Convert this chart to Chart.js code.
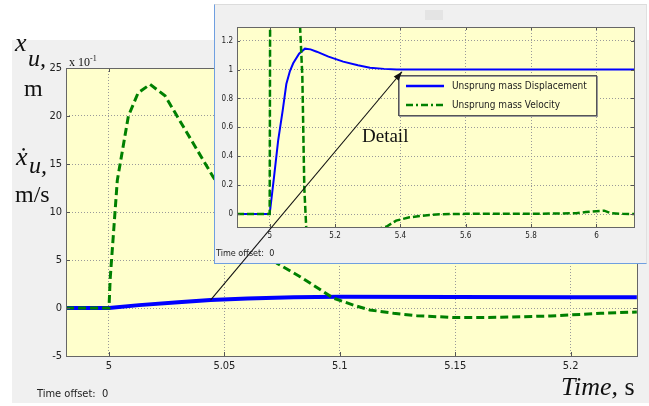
<!DOCTYPE html>
<html>
<head>
<meta charset="utf-8">
<script src="https://cdn.jsdelivr.net/npm/chart.js@4/dist/chart.umd.min.js"></script>
<style>
  html, body { margin:0; padding:0; background:#ffffff; }
  #stage { position:relative; width:649px; height:406px; overflow:hidden; background:#ffffff; }
  .abs { position:absolute; white-space:nowrap; }
  #mainPanel { left:12px; top:40px; width:637px; height:363px; background:#f0f0f0; }
  #insetPanel { left:214px; top:4px; width:431px; height:258px; background:#f0f0f0;
    border-left:1px solid #6f9fe0; border-bottom:1px solid #6f9fe0; border-top:1px solid #dcdcdc; border-right:1px solid #e0e0e0; }
  .serif { font-family:'Liberation Serif','Times New Roman',serif; color:#111; line-height:1; }
  .narrow { font-family:'Liberation Sans Narrow','Arial Narrow','DejaVu Sans Condensed',sans-serif; color:#222; line-height:1; }
  canvas { position:absolute; }
</style>
</head>
<body>
<div id="stage">
  <div id="mainPanel" class="abs"></div>
  <canvas id="mainChart" width="649" height="406" style="left:0;top:0;"></canvas>

  <div class="abs serif" style="left:15px;top:30px;font-size:26px;font-style:italic;">x</div>
  <div class="abs serif" style="left:28px;top:46px;font-size:24px;font-style:italic;">u,</div>
  <div class="abs serif" style="left:24px;top:76px;font-size:24px;">m</div>
  <div class="abs serif" style="left:16px;top:144px;font-size:26px;font-style:italic;">ẋ</div>
  <div class="abs serif" style="left:29px;top:153px;font-size:24px;font-style:italic;">u,</div>
  <div class="abs serif" style="left:15px;top:182px;font-size:24px;">m/s</div>
  <div class="abs serif" style="left:69px;top:55px;font-size:12px;">x 10<span style="font-size:8px;vertical-align:5px;">-1</span></div>
  <div class="abs serif" style="left:561px;top:374px;font-size:26px;"><i>Time,</i> s</div>
  <div class="abs narrow" style="left:37px;top:388px;font-size:11px;">Time offset:&nbsp;&nbsp;0</div>

  <div id="insetPanel" class="abs"></div>
  <div class="abs" style="left:425px;top:10px;width:18px;height:10px;background:#e4e4e4;"></div>
  <canvas id="insetChart" width="431" height="257" style="left:215px;top:5px;"></canvas>
  <div class="abs narrow" style="left:216px;top:249px;font-size:9px;">Time offset:&nbsp;&nbsp;0</div>
  <div class="abs serif" style="left:362px;top:126px;font-size:19px;">Detail</div>

  <canvas id="overlay" width="649" height="406" style="left:0;top:0;pointer-events:none;"></canvas>
</div>
<script>
// ---------------- data ----------------
// main plot (velocity and displacement in units of 10^-1)
const mainVelTime = [4.9814, 5.0, 5.0005, 5.0036, 5.0084, 5.0126, 5.0178, 5.0243, 5.045, 5.06, 5.0728, 5.0828, 5.0971, 5.1059, 5.113, 5.1233, 5.1334, 5.15, 5.1697, 5.1914, 5.2131, 5.2287];
const mainVelocity = [0, 0, 3, 13.3, 20, 22.4, 23.3, 22.1, 13.7, 8.6, 4.65, 3.26, 1.04, 0.3, -0.2, -0.55, -0.8, -1.0, -0.97, -0.83, -0.55, -0.42];
const mainDispTime = [4.9814, 5.0, 5.013, 5.03, 5.044, 5.06, 5.08, 5.1, 5.15, 5.2, 5.2287];
const mainDisplacement = [0, 0, 0.3, 0.6, 0.83, 1.0, 1.12, 1.16, 1.15, 1.13, 1.12];
const mainXTicks = [5, 5.05, 5.1, 5.15, 5.2];
const mainXTickLabels = ['5', '5.05', '5.1', '5.15', '5.2'];
const mainYTicks = [-5, 0, 5, 10, 15, 20, 25];
const mainYTickLabels = ['-5', '0', '5', '10', '15', '20', '25'];

// inset ("Detail") plot
const insetDispTime = [4.9, 5.0, 5.013, 5.026, 5.04, 5.051, 5.062, 5.072, 5.09, 5.108, 5.125, 5.144, 5.18, 5.225, 5.27, 5.307, 5.35, 5.389, 5.45, 5.6, 5.8, 6.0, 6.115];
const insetDisplacement = [0, 0, 0.25, 0.51, 0.72, 0.9, 0.99, 1.044, 1.11, 1.145, 1.14, 1.124, 1.09, 1.055, 1.03, 1.013, 1.005, 1.0, 1.0, 1.0, 1.0, 1.0, 1.0];
const insetVelTime = [4.9, 5.0, 5.002, 5.018, 5.06, 5.09, 5.1, 5.106, 5.112, 5.15, 5.25, 5.357, 5.387, 5.428, 5.459, 5.489, 5.52, 5.6, 5.8, 5.938, 5.968, 6.024, 6.045, 6.08, 6.115];
const insetVelocity = [0, 0, 2.0, 2.33, 1.8, 1.45, 0.95, 0.18, -0.1, -0.2, -0.15, -0.088, -0.046, -0.023, -0.014, -0.007, -0.002, 0.001, 0.001, 0.005, 0.014, 0.023, 0.005, 0.001, 0.0];
const insetXTicks = [5, 5.2, 5.4, 5.6, 5.8, 6];
const insetXTickLabels = ['5', '5.2', '5.4', '5.6', '5.8', '6'];
const insetYTicks = [0, 0.2, 0.4, 0.6, 0.8, 1, 1.2];
const insetYTickLabels = ['0', '0.2', '0.4', '0.6', '0.8', '1', '1.2'];
const seriesLabels = ['Unsprung mass Displacement', 'Unsprung mass Velocity'];

// arrow anchors: [time, value] on main plot -> [time, value] on inset plot
const arrowFrom = [5.044, 0.83];
const arrowTo = [5.405, 0.985];

// ---------------- helpers ----------------
const zip = (xs, ys) => xs.map((x, i) => ({ x: x, y: ys[i] }));
const NARROW = "'Liberation Sans Narrow','Arial Narrow','DejaVu Sans Condensed',sans-serif";
const PLOT_BG = '#ffffcc';
const BLUE = '#0000ff';
const GREEN = '#008000';

const plotBg = {
  id: 'plotBg',
  beforeDraw(chart) {
    const a = chart.chartArea, c = chart.ctx;
    c.save(); c.fillStyle = PLOT_BG; c.fillRect(a.left, a.top, a.right - a.left, a.bottom - a.top); c.restore();
  }
};
const boxTicks = {
  id: 'boxTicks',
  afterDatasetsDraw(chart, args, opts) {
    const a = chart.chartArea, c = chart.ctx, len = opts.len || 4;
    c.save();
    c.strokeStyle = opts.color || '#555';
    c.lineWidth = 1;
    c.beginPath();
    chart.scales.x.ticks.forEach(t => {
      const p = Math.round(chart.scales.x.getPixelForValue(t.value)) + 0.5;
      c.moveTo(p, a.bottom); c.lineTo(p, a.bottom - len);
      c.moveTo(p, a.top); c.lineTo(p, a.top + len);
    });
    chart.scales.y.ticks.forEach(t => {
      const p = Math.round(chart.scales.y.getPixelForValue(t.value)) + 0.5;
      c.moveTo(a.left, p); c.lineTo(a.left + len, p);
      c.moveTo(a.right, p); c.lineTo(a.right - len, p);
    });
    c.stroke();
    c.strokeStyle = opts.boxColor || '#666';
    c.strokeRect(Math.round(a.left) + 0.5, Math.round(a.top) + 0.5, Math.round(a.right - a.left), Math.round(a.bottom - a.top));
    c.restore();
  }
};
const insetLegend = {
  id: 'insetLegend',
  afterDraw(chart) {
    const a = chart.chartArea, c = chart.ctx;
    const x0 = a.right - 236, y0 = 70, w = 198, h = 40;
    c.save();
    c.fillStyle = PLOT_BG; c.fillRect(x0, y0, w, h);
    c.strokeStyle = '#9a9a9a'; c.lineWidth = 1;
    c.strokeRect(x0 + 1.5, y0 + 1.5, w, h);
    c.strokeStyle = '#555';
    c.strokeRect(x0 + 0.5, y0 + 0.5, w, h);
    const ds = chart.data.datasets;
    const rows = [ds[0], ds[1]];
    rows.forEach((d, i) => {
      const yy = y0 + 11 + i * 19;
      c.strokeStyle = d.borderColor; c.lineWidth = 2.5;
      c.setLineDash(i === 0 ? [] : [7, 3, 2, 3]);
      c.beginPath(); c.moveTo(x0 + 8, yy); c.lineTo(x0 + 46, yy); c.stroke();
      c.setLineDash([]);
      c.fillStyle = '#222'; c.font = '10px ' + NARROW; c.textBaseline = 'middle';
      c.fillText(d.label, x0 + 54, yy + 0.5);
    });
    c.restore();
  }
};

function axis(min, max, ticks, labels, size, fit, isX) {
  return {
    type: 'linear', min: min, max: max,
    afterBuildTicks: s => { s.ticks = ticks.map(v => ({ value: v })); },
    afterFit: s => { if (isX) s.height = fit; else s.width = fit; },
    grid: { color: '#9a9a9a', lineWidth: 1, drawTicks: false, tickLength: 0 },
    border: { display: false, dash: [1, 2] },
    ticks: { padding: 4, color: '#222', font: { family: NARROW, size: size },
             autoSkip: false, maxRotation: 0, callback: (v, i) => labels[i] }
  };
}

// ---------------- main chart ----------------
const mainChart = new Chart(document.getElementById('mainChart'), {
  type: 'line',
  data: { datasets: [
    { label: seriesLabels[1], data: zip(mainVelTime, mainVelocity), borderColor: GREEN, borderWidth: 3,
      borderDash: [8, 4], pointRadius: 0, tension: 0, order: 0, clip: 0 },
    { label: seriesLabels[0], data: zip(mainDispTime, mainDisplacement), borderColor: BLUE, borderWidth: 4,
      pointRadius: 0, tension: 0, order: 1, clip: 0 }
  ]},
  options: {
    animation: false, responsive: false, devicePixelRatio: 1,
    layout: { padding: { top: 68, right: 12, left: 0, bottom: 0 } },
    plugins: { legend: { display: false }, tooltip: { enabled: false }, boxTicks: { len: 4 } },
    scales: {
      x: axis(4.98137, 5.22877, mainXTicks, mainXTickLabels, 11, 50, true),
      y: axis(-5, 25, mainYTicks, mainYTickLabels, 11, 66, false)
    }
  },
  plugins: [plotBg, boxTicks]
});

// ---------------- inset chart ----------------
const insetChart = new Chart(document.getElementById('insetChart'), {
  type: 'line',
  data: { datasets: [
    { label: seriesLabels[0], data: zip(insetDispTime, insetDisplacement), borderColor: BLUE, borderWidth: 2,
      pointRadius: 0, tension: 0, order: 1, clip: 0 },
    { label: seriesLabels[1], data: zip(insetVelTime, insetVelocity), borderColor: GREEN, borderWidth: 2.5,
      borderDash: [7, 3], pointRadius: 0, tension: 0, order: 0, clip: 0 }
  ]},
  options: {
    animation: false, responsive: false, devicePixelRatio: 1,
    layout: { padding: { top: 22, right: 12, left: 0, bottom: 0 } },
    plugins: { legend: { display: false }, tooltip: { enabled: false }, boxTicks: { len: 3 } },
    scales: {
      x: axis(4.9, 6.115, insetXTicks, insetXTickLabels, 8, 35, true),
      y: axis(-0.09, 1.295, insetYTicks, insetYTickLabels, 8, 22, false)
    }
  },
  plugins: [plotBg, boxTicks, insetLegend]
});

// ---------------- arrow linking the two plots ----------------
(function drawArrow() {
  const cv = document.getElementById('overlay');
  const c = cv.getContext('2d');
  const insetEl = document.getElementById('insetChart');
  const ox = parseFloat(insetEl.style.left), oy = parseFloat(insetEl.style.top);
  const x1 = mainChart.scales.x.getPixelForValue(arrowFrom[0]);
  const y1 = mainChart.scales.y.getPixelForValue(arrowFrom[1]);
  const x2 = insetChart.scales.x.getPixelForValue(arrowTo[0]) + ox;
  const y2 = insetChart.scales.y.getPixelForValue(arrowTo[1]) + oy;
  c.strokeStyle = '#111'; c.fillStyle = '#111'; c.lineWidth = 1.1;
  c.beginPath(); c.moveTo(x1, y1); c.lineTo(x2, y2); c.stroke();
  const ang = Math.atan2(y2 - y1, x2 - x1), L = 9, W = 3.2;
  c.beginPath();
  c.moveTo(x2, y2);
  c.lineTo(x2 - L * Math.cos(ang) + W * Math.sin(ang), y2 - L * Math.sin(ang) - W * Math.cos(ang));
  c.lineTo(x2 - L * Math.cos(ang) - W * Math.sin(ang), y2 - L * Math.sin(ang) + W * Math.cos(ang));
  c.closePath(); c.fill();
})();
</script>
</body>
</html>
